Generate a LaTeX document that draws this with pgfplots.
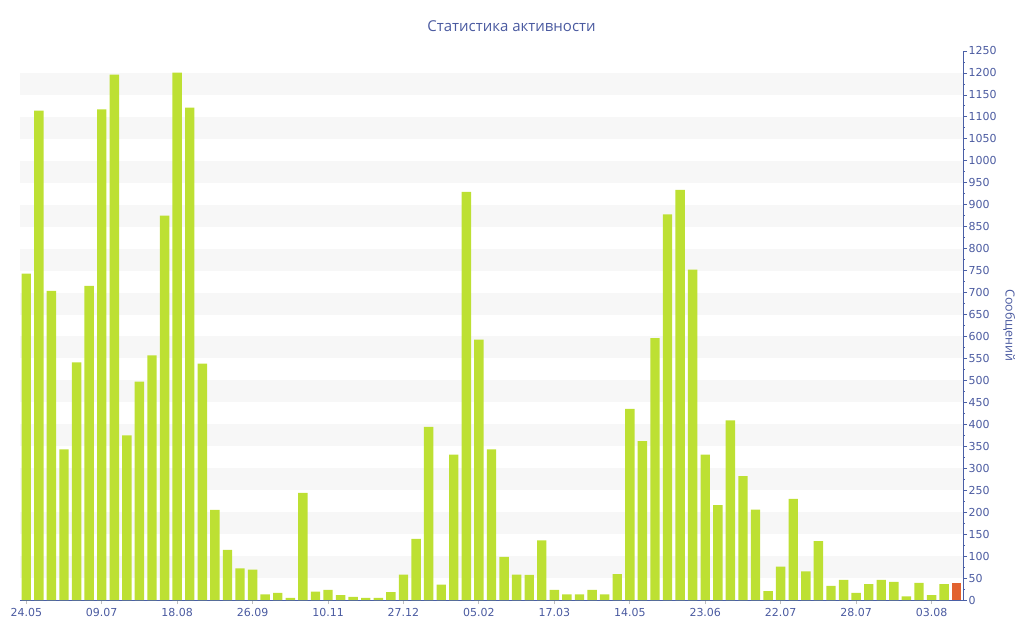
\documentclass[border=0pt]{standalone}
\usepackage{fontspec}
\setmainfont{DejaVu Sans}
\newfontfamily\titlefont{Open Sans}
\usepackage{pgfplots}
\pgfplotsset{compat=1.18}
\definecolor{barg}{HTML}{BDE033}
\definecolor{baro}{HTML}{E2622F}
\definecolor{txt}{HTML}{4A5AA0}
\definecolor{axl}{HTML}{4A5FA6}
\definecolor{band}{HTML}{F7F7F7}
\begin{document}
\begin{tikzpicture}
\path[use as bounding box] (0pt,0pt) rectangle (1024pt,640pt);
\node[font=\titlefont\fontsize{15}{18}\selectfont, text=txt] at (511.5pt,614pt) {Статистика активности};
\begin{axis}[
  at={(20pt,40pt)}, anchor=south west,
  scale only axis, width=943pt, height=549pt,
  xmin=-0.5, xmax=74.5, ymin=0, ymax=1250,
  ybar, bar width=9.4pt, bar shift=0pt,
  axis x line*=bottom, axis y line*=right,
  axis line style={-, draw=axl, line width=1pt},
  xtick={0,6,...,72},
  xticklabels={24.05,09.07,18.08,26.09,10.11,27.12,05.02,17.03,14.05,23.06,22.07,28.07,03.08},
  ytick={0,50,...,1250},
  yticklabel pos=right,
  tick align=outside,
  major tick length=4pt,
  x tick style={draw=gray!50, line width=1pt},
  y tick style={draw=axl, line width=0.8pt},
  xticklabel style={font=\fontsize{11}{13}\selectfont, text=txt, yshift=-1pt},
  yticklabel style={font=\fontsize{11}{13}\selectfont, text=txt, xshift=-2pt},
  /pgf/number format/assume math mode=true,
  /pgf/number format/1000 sep={},
  ylabel={Сообщений},
  ylabel style={font=\titlefont\fontsize{12.5}{14}\selectfont, text=txt, rotate=180},
  clip=false,
]
\fill[band] (axis cs:-0.5,50) rectangle (axis cs:74.5,100);
\fill[band] (axis cs:-0.5,150) rectangle (axis cs:74.5,200);
\fill[band] (axis cs:-0.5,250) rectangle (axis cs:74.5,300);
\fill[band] (axis cs:-0.5,350) rectangle (axis cs:74.5,400);
\fill[band] (axis cs:-0.5,450) rectangle (axis cs:74.5,500);
\fill[band] (axis cs:-0.5,550) rectangle (axis cs:74.5,600);
\fill[band] (axis cs:-0.5,650) rectangle (axis cs:74.5,700);
\fill[band] (axis cs:-0.5,750) rectangle (axis cs:74.5,800);
\fill[band] (axis cs:-0.5,850) rectangle (axis cs:74.5,900);
\fill[band] (axis cs:-0.5,950) rectangle (axis cs:74.5,1000);
\fill[band] (axis cs:-0.5,1050) rectangle (axis cs:74.5,1100);
\fill[band] (axis cs:-0.5,1150) rectangle (axis cs:74.5,1200);
\pgfplotsinvokeforeach{25,75,...,1225}{\draw[axl, line width=0.8pt] (axis cs:74.5,#1) -- ++(-4pt,0);}
\draw[axl, line width=0.8pt] (axis cs:74.5,1250) -- ++(-4pt,0);
\addplot[fill=barg, draw=none] coordinates {
(0,743) (1,1114) (2,704) (3,343) (4,541) (5,715) (6,1117) (7,1196) (8,375) (9,497)
(10,557) (11,875) (12,1201) (13,1121) (14,538) (15,205) (16,114) (17,72) (18,69) (19,13)
(20,16) (21,5) (22,244) (23,19) (24,23) (25,11) (26,7) (27,5) (28,5) (29,18)
(30,58) (31,139) (32,394) (33,35) (34,331) (35,929) (36,593) (37,343) (38,98) (39,58)
(40,57) (41,136) (42,23) (43,13) (44,13) (45,23) (46,13) (47,59) (48,435) (49,362)
(50,596) (51,878) (52,934) (53,752) (54,331) (55,216) (56,409) (57,282) (58,206) (59,20)
(60,76) (61,230) (62,65) (63,134) (64,32) (65,46) (66,16) (67,36) (68,46) (69,41)
(70,8) (71,39) (72,11) (73,36)
};
\addplot[fill=baro, draw=none] coordinates {(74,38)};
\end{axis}
\end{tikzpicture}
\end{document}
